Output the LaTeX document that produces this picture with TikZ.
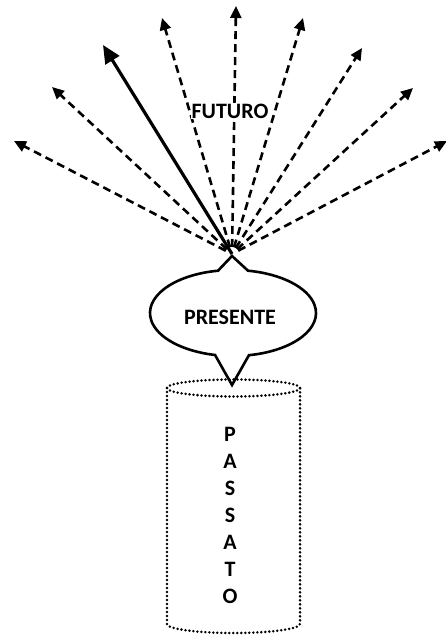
\documentclass[tikz,border=0pt]{standalone}
\usepackage{fontspec}
\setmainfont{Carlito}
\usetikzlibrary{arrows.meta}
\begin{document}
\begin{tikzpicture}[x=1pt,y=1pt,
  dasharrow/.style={line width=2.6pt, dash pattern=on 8pt off 5pt, shorten <=7pt,
    -{Triangle[length=12pt,width=11pt]}},
  solidarrow/.style={line width=3.2pt, -{Triangle[length=18pt,width=16pt]}},
  bubble/.style={line width=2.6pt, line join=miter},
  dotline/.style={line width=2.8pt, dash pattern=on 0pt off 4pt, line cap=round},
  lbl/.style={font=\fontsize{22}{27}\selectfont\bfseries, align=center, inner sep=0pt}]
\useasboundingbox (0,0) rectangle (445,636);

% arrow origin and tips
\coordinate (o) at (232,382);
\coordinate (t1) at (14,495);
\coordinate (t2) at (52,549);
\coordinate (ts) at (103,591);
\coordinate (t3) at (162,618);
\coordinate (t4) at (236,630);
\coordinate (t5) at (303,618);
\coordinate (t6) at (362,588);
\coordinate (t7) at (413,548);
\coordinate (t8) at (447,495);

\foreach \t in {t1,t2,t3,t4,t5,t6,t7,t8}
  \draw[dasharrow] (o) -- (\t);
\draw[solidarrow] (o) -- (ts);

\node[lbl, fill=white, inner sep=1pt] (fut) at (230,525) {FUTURO};

% PRESENTE bubble
\coordinate (neck) at (232,380);
\coordinate (tail) at (232,251);
\draw[bubble]
  ({233+83*cos(100.4)},{323+43*sin(100.4)})
  arc[start angle=100.4, end angle=257.5, x radius=83, y radius=43]
  -- (tail)
  -- ({233+83*cos(281.1)},{323+43*sin(281.1)})
  arc[start angle=281.1, end angle=439.6, x radius=83, y radius=43]
  -- (neck) -- cycle;
\node[lbl] (pres) at (230,319) {PRESENTE};

% PASSATO cylinder
\draw[dotline] (233.5,248) ellipse[x radius=66.5, y radius=8.5];
\draw[dotline] (167,248) -- (167,12)
  arc[start angle=180, end angle=360, x radius=66.5, y radius=9]
  -- (300,248);
\node[lbl] (pas) at (230,121) {P\\A\\S\\S\\A\\T\\O};
\end{tikzpicture}
\end{document}
